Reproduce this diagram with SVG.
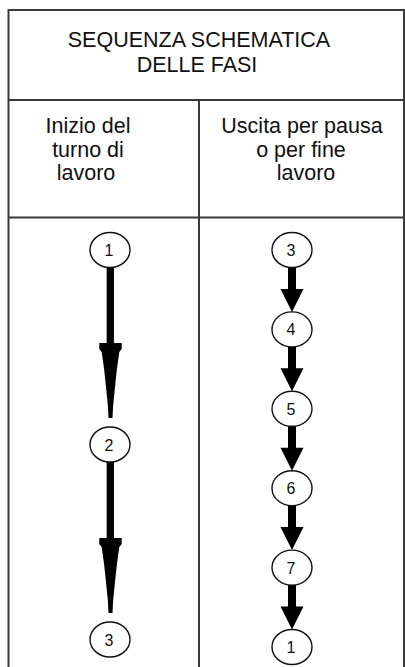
<svg xmlns="http://www.w3.org/2000/svg" width="405" height="667" viewBox="0 0 405 667">
<style>
.grid{stroke:#3a3a3a;stroke-width:2;fill:none}
.t{font-family:"Liberation Sans",Arial,sans-serif;font-size:21.5px;fill:#111;text-anchor:middle}
.n{font-family:"Liberation Sans",Arial,sans-serif;font-size:16px;fill:#111;text-anchor:middle}
.c{fill:#fff;stroke:#111;stroke-width:1.4}
.shaft{stroke:#000;fill:none}
</style>
<defs>
<path id="longHead" d="M-11.2,-75 H11.2 V-69 L8.8,-66 L6.3,-48 L4.2,-28 L2.6,-12 L2,0 H-2 L-2.6,-12 L-4.2,-28 L-6.3,-48 L-8.8,-66 L-11.2,-69 Z" fill="#000"/>
<path id="shortHead" d="M-11.5,-23 H11.5 L0,0 Z" fill="#000"/>
</defs>
<rect width="405" height="667" fill="#fff"/>
<g id="table">
<path class="grid" d="M8.5,667 V10 H404 V667 M8.5,100 H404 M199,100 V667 M8.5,217.5 H404"/>
</g>
<g id="headers">
<text class="t" x="199" y="47">SEQUENZA SCHEMATICA</text>
<text class="t" x="197" y="72">DELLE FASI</text>
<text class="t" x="88" y="133">Inizio del</text>
<text class="t" x="88" y="157">turno di</text>
<text class="t" x="86" y="180">lavoro</text>
<text class="t" x="302" y="133">Uscita per pausa</text>
<text class="t" x="301" y="157">o per fine</text>
<text class="t" x="306" y="180">lavoro</text>
</g>
<g id="connectors">
<path class="shaft" stroke-width="7.3" d="M110.3,267 V344 M110.3,462 V539"/>
<use href="#longHead" x="110.5" y="418"/>
<use href="#longHead" x="110.5" y="613"/>
<path class="shaft" stroke-width="8" d="M292,267 V290 M292,346.5 V369.5 M292,426 V449 M292,505.5 V528.5 M292,585 V608"/>
<use href="#shortHead" x="292" y="311.9"/>
<use href="#shortHead" x="292" y="391.3"/>
<use href="#shortHead" x="292" y="470.7"/>
<use href="#shortHead" x="292" y="550.1"/>
<use href="#shortHead" x="292" y="629.5"/>
</g>
<g id="L1"><ellipse class="c" cx="110" cy="250" rx="20" ry="17.5"/><text class="n" x="109" y="256">1</text></g>
<g id="L2"><ellipse class="c" cx="110" cy="444.5" rx="20" ry="17.5"/><text class="n" x="109" y="450.5">2</text></g>
<g id="L3"><ellipse class="c" cx="110" cy="639.5" rx="20" ry="17.5"/><text class="n" x="109" y="645.5">3</text></g>
<g id="R3"><ellipse class="c" cx="292" cy="250" rx="20" ry="17.5"/><text class="n" x="291" y="256">3</text></g>
<g id="R4"><ellipse class="c" cx="292" cy="329.4" rx="20" ry="17.5"/><text class="n" x="291" y="335.4">4</text></g>
<g id="R5"><ellipse class="c" cx="292" cy="408.8" rx="20" ry="17.5"/><text class="n" x="291" y="414.8">5</text></g>
<g id="R6"><ellipse class="c" cx="292" cy="488.2" rx="20" ry="17.5"/><text class="n" x="291" y="494.2">6</text></g>
<g id="R7"><ellipse class="c" cx="292" cy="567.6" rx="20" ry="17.5"/><text class="n" x="291" y="573.6">7</text></g>
<g id="R1"><ellipse class="c" cx="292" cy="647" rx="20" ry="17.5"/><text class="n" x="291" y="653">1</text></g>
</svg>
